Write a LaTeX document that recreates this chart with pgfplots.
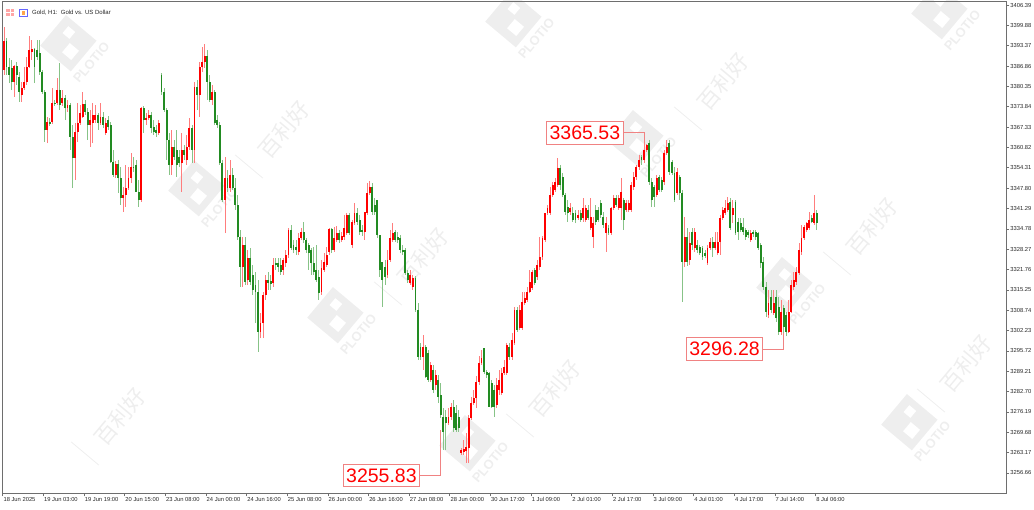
\documentclass[border=0pt]{standalone}
\usepackage{pgfplots}
\pgfplotsset{compat=1.18}
\usepackage{pgfplotstable}
\usepackage{fontspec}
\setmainfont{Liberation Sans}
\newfontfamily\cjk{Noto Sans CJK SC}

\definecolor{upc}{RGB}{255,0,0}
\definecolor{upw}{RGB}{255,125,125}
\definecolor{dnc}{RGB}{34,139,34}
\definecolor{dnw}{RGB}{135,195,135}
\definecolor{tagline}{RGB}{240,130,130}
\definecolor{frame}{RGB}{110,110,110}
\definecolor{wmc}{RGB}{238,238,238}

% Gold H1 candles: bar index, open, high, low, close
\pgfplotstableread{
i o h l c
0 3385.6 3399.4 3384.0 3394.9
1 3394.9 3395.8 3384.0 3386.6
2 3386.6 3389.4 3381.4 3384.0
3 3386.2 3388.8 3379.2 3381.8
4 3381.8 3387.2 3377.0 3386.9
5 3386.9 3388.2 3380.8 3384.0
6 3383.4 3385.0 3375.4 3378.6
7 3377.6 3381.8 3375.4 3379.8
8 3379.8 3386.6 3379.2 3381.8
9 3381.8 3389.8 3380.8 3386.6
10 3386.6 3396.5 3386.2 3392.0
11 3391.4 3395.2 3388.8 3392.3
12 3392.3 3392.6 3381.4 3386.6
13 3392.0 3395.2 3388.8 3389.8
14 3391.0 3395.2 3384.0 3385.0
15 3385.0 3385.6 3377.9 3378.6
16 3378.6 3379.2 3362.6 3366.4
17 3366.4 3370.6 3362.2 3369.0
18 3369.0 3370.2 3367.7 3368.3
19 3369.0 3379.8 3368.3 3375.0
20 3375.0 3376.0 3374.1 3374.7
21 3375.0 3383.0 3374.4 3379.2
22 3379.2 3387.8 3372.8 3374.4
23 3375.0 3379.2 3374.1 3376.6
24 3376.6 3377.6 3369.6 3373.4
25 3373.4 3376.0 3372.2 3374.4
26 3374.4 3375.0 3360.0 3364.2
27 3364.2 3368.0 3347.8 3357.4
28 3357.4 3368.6 3350.4 3365.8
29 3365.8 3375.0 3362.6 3368.6
30 3368.6 3374.4 3368.0 3371.8
31 3370.6 3378.6 3370.2 3374.7
32 3374.7 3376.0 3371.2 3372.2
33 3372.2 3373.4 3363.2 3368.0
34 3368.0 3372.8 3361.0 3369.6
35 3368.6 3375.0 3362.2 3371.2
36 3369.6 3374.4 3368.6 3371.2
37 3371.2 3371.8 3366.4 3368.6
38 3368.6 3375.0 3368.0 3370.6
39 3370.6 3372.2 3367.0 3368.0
40 3365.4 3370.2 3364.8 3368.6
41 3369.6 3370.9 3366.4 3367.4
42 3368.0 3369.0 3355.8 3356.2
43 3356.2 3360.0 3351.4 3352.0
44 3352.0 3356.5 3351.0 3355.5
45 3355.5 3356.8 3346.2 3351.0
46 3351.0 3354.6 3342.4 3344.6
47 3344.6 3348.2 3340.2 3345.6
48 3345.6 3355.2 3341.8 3347.8
49 3347.8 3354.6 3347.2 3351.0
50 3351.0 3359.0 3349.4 3354.6
51 3354.6 3357.8 3353.0 3354.2
52 3355.2 3356.8 3346.6 3346.6
53 3346.6 3350.4 3341.8 3344.0
54 3344.0 3373.8 3343.4 3373.4
55 3373.4 3374.1 3365.4 3369.6
56 3369.6 3371.8 3368.0 3370.2
57 3370.2 3372.8 3369.6 3371.2
58 3371.2 3372.2 3365.4 3367.0
59 3367.4 3369.6 3364.8 3365.8
60 3366.4 3368.0 3364.2 3365.4
61 3365.4 3369.6 3364.8 3368.6
62 3384.0 3384.6 3377.6 3378.6
63 3378.6 3379.8 3372.2 3372.8
64 3372.8 3373.4 3356.8 3363.2
65 3363.2 3365.4 3352.0 3355.2
66 3355.2 3366.4 3352.0 3361.0
67 3361.0 3363.2 3356.8 3357.8
68 3360.0 3366.4 3351.4 3355.2
69 3357.8 3360.0 3354.6 3355.8
70 3355.8 3365.4 3346.6 3360.0
71 3360.0 3361.6 3356.8 3358.4
72 3356.8 3364.8 3355.2 3361.0
73 3361.0 3370.2 3360.0 3367.0
74 3367.0 3368.0 3355.8 3360.0
75 3360.0 3381.8 3355.8 3380.2
76 3380.2 3382.4 3372.8 3377.6
77 3377.6 3388.2 3370.6 3386.6
78 3386.6 3393.0 3385.0 3388.2
79 3388.2 3393.9 3386.2 3390.1
80 3390.1 3392.0 3376.0 3381.8
81 3381.8 3384.0 3375.4 3376.0
82 3376.0 3380.8 3374.4 3378.6
83 3378.6 3379.2 3368.0 3368.6
84 3369.6 3371.2 3367.0 3368.0
85 3368.0 3369.0 3355.2 3355.8
86 3355.8 3356.8 3343.4 3344.0
87 3344.0 3357.8 3333.4 3351.0
88 3351.0 3353.6 3346.6 3347.8
89 3347.8 3356.8 3346.6 3352.0
90 3352.0 3354.2 3347.2 3347.8
91 3347.8 3351.0 3340.8 3342.4
92 3342.4 3345.6 3331.2 3332.2
93 3332.2 3334.4 3316.2 3322.6
94 3322.6 3332.2 3316.2 3329.6
95 3329.6 3332.2 3316.8 3317.8
96 3318.4 3328.0 3316.8 3325.4
97 3325.4 3328.6 3316.8 3317.8
98 3320.0 3323.2 3313.6 3315.2
99 3316.8 3321.0 3304.6 3314.6
100 3314.6 3318.4 3295.4 3301.8
101 3301.8 3307.8 3299.8 3304.6
102 3304.6 3314.6 3299.8 3313.6
103 3313.6 3320.0 3312.0 3318.4
104 3318.4 3321.0 3315.2 3317.4
105 3318.1 3320.0 3315.2 3317.1
106 3317.4 3325.4 3316.2 3323.2
107 3323.8 3325.4 3321.6 3323.2
108 3323.8 3325.4 3321.0 3322.6
109 3323.2 3325.4 3320.0 3321.0
110 3321.6 3325.4 3320.0 3324.8
111 3323.8 3328.0 3322.6 3326.4
112 3326.4 3335.0 3325.4 3334.4
113 3334.4 3336.0 3328.0 3328.6
114 3329.6 3331.2 3327.0 3328.0
115 3329.0 3331.2 3326.4 3328.0
116 3327.4 3333.4 3326.4 3331.8
117 3331.8 3335.0 3331.2 3333.8
118 3333.8 3337.0 3330.2 3331.2
119 3331.2 3331.8 3327.0 3328.0
120 3329.6 3330.2 3321.6 3327.0
121 3328.0 3328.6 3320.0 3323.8
122 3323.8 3329.0 3320.0 3321.0
123 3321.6 3329.6 3317.8 3318.4
124 3319.4 3321.6 3312.0 3314.2
125 3314.6 3324.8 3313.6 3322.2
126 3321.6 3327.0 3321.0 3324.2
127 3323.2 3329.0 3322.6 3326.4
128 3327.4 3335.0 3326.4 3334.7
129 3334.7 3335.0 3327.0 3328.0
130 3328.0 3335.4 3327.4 3331.8
131 3331.2 3335.7 3330.6 3333.4
132 3333.4 3334.4 3330.2 3331.2
133 3331.2 3333.8 3330.6 3332.5
134 3332.2 3339.2 3331.2 3335.0
135 3333.4 3339.8 3332.8 3339.2
136 3339.2 3339.8 3332.8 3333.4
137 3329.6 3337.6 3328.6 3337.0
138 3336.6 3343.0 3336.0 3339.8
139 3339.8 3341.4 3336.0 3337.0
140 3337.6 3339.2 3332.8 3333.8
141 3334.4 3336.0 3332.5 3333.8
142 3333.8 3340.2 3331.2 3340.2
143 3339.8 3349.4 3339.2 3346.2
144 3346.2 3350.1 3345.6 3348.2
145 3348.2 3349.4 3339.2 3340.2
146 3342.4 3344.6 3339.2 3340.2
147 3344.0 3344.0 3331.8 3332.8
148 3332.8 3332.8 3319.4 3321.6
149 3324.2 3324.2 3309.8 3318.4
150 3322.6 3324.8 3316.8 3319.4
151 3320.0 3328.0 3319.0 3324.8
152 3324.8 3334.4 3324.2 3331.8
153 3331.2 3336.6 3330.6 3333.4
154 3333.8 3334.4 3330.6 3331.2
155 3332.2 3333.8 3330.2 3331.2
156 3331.8 3332.8 3327.0 3328.0
157 3328.0 3329.6 3326.4 3327.4
158 3328.0 3328.6 3320.0 3320.6
159 3320.6 3321.6 3317.4 3318.4
160 3317.4 3321.6 3316.8 3320.0
161 3316.2 3320.0 3315.2 3319.0
162 3319.0 3319.7 3308.2 3308.8
163 3308.8 3311.0 3292.8 3293.8
164 3297.0 3298.2 3292.8 3293.8
165 3293.8 3300.8 3289.6 3297.0
166 3297.0 3297.6 3287.0 3287.4
167 3295.0 3296.0 3285.8 3286.4
168 3286.4 3292.2 3285.8 3291.2
169 3289.6 3291.2 3282.2 3283.2
170 3284.8 3289.6 3283.2 3288.0
171 3286.4 3288.0 3279.0 3281.0
172 3281.6 3285.4 3274.2 3275.2
173 3274.6 3277.4 3264.0 3269.8
174 3274.6 3276.8 3264.0 3272.6
175 3272.6 3277.4 3272.0 3274.6
176 3274.6 3279.0 3273.6 3277.8
177 3277.8 3280.0 3269.8 3271.0
178 3275.8 3278.4 3269.8 3270.4
179 3274.6 3276.8 3269.8 3271.0
180 3263.0 3264.6 3262.4 3264.0
181 3263.4 3267.2 3262.4 3264.3
182 3263.7 3269.4 3259.8 3265.0
183 3264.6 3275.2 3259.8 3274.2
184 3274.2 3281.0 3273.6 3279.0
185 3279.0 3283.2 3278.4 3280.6
186 3280.6 3287.7 3277.4 3285.8
187 3285.8 3294.1 3284.8 3291.8
188 3291.8 3296.0 3291.2 3293.4
189 3296.6 3296.6 3288.3 3289.0
190 3289.0 3289.6 3287.0 3288.0
191 3288.6 3289.0 3277.8 3277.8
192 3285.4 3286.4 3277.4 3277.8
193 3283.2 3284.8 3274.6 3277.8
194 3278.4 3287.0 3277.4 3284.8
195 3283.2 3289.6 3281.6 3286.4
196 3282.2 3290.2 3281.6 3288.6
197 3288.6 3292.8 3288.0 3290.6
198 3288.6 3298.2 3288.0 3297.6
199 3297.0 3298.2 3292.8 3293.8
200 3293.8 3301.4 3292.8 3299.2
201 3298.2 3309.8 3297.6 3308.8
202 3308.8 3309.8 3301.8 3302.4
203 3303.0 3310.4 3302.4 3308.8
204 3303.0 3314.6 3302.4 3311.4
205 3311.0 3314.6 3310.4 3312.6
206 3312.0 3316.2 3311.4 3314.6
207 3314.6 3321.6 3314.2 3317.8
208 3315.8 3321.6 3315.2 3321.0
209 3321.6 3322.2 3316.8 3317.4
210 3319.4 3324.8 3318.4 3323.2
211 3322.6 3332.2 3321.6 3325.8
212 3325.8 3332.5 3324.8 3331.8
213 3331.2 3339.8 3330.6 3339.8
214 3339.8 3342.4 3339.2 3341.4
215 3339.8 3348.2 3339.2 3345.6
216 3345.6 3349.8 3345.0 3348.8
217 3347.2 3351.0 3346.6 3349.8
218 3348.8 3357.4 3348.2 3354.2
219 3354.2 3355.2 3347.2 3348.8
220 3351.4 3352.6 3345.0 3345.6
221 3345.6 3346.2 3339.2 3340.2
222 3341.8 3344.0 3337.0 3339.8
223 3340.2 3343.0 3339.2 3341.4
224 3339.8 3341.8 3337.0 3337.6
225 3339.8 3340.8 3336.6 3337.6
226 3338.2 3340.8 3337.6 3339.2
227 3339.8 3340.8 3337.0 3337.6
228 3338.2 3344.6 3337.0 3341.4
229 3337.6 3342.4 3337.0 3341.4
230 3340.8 3342.4 3337.6 3338.2
231 3335.0 3344.6 3334.4 3338.6
232 3332.2 3338.6 3328.6 3336.6
233 3340.8 3342.4 3336.0 3337.0
234 3340.8 3341.8 3337.0 3337.6
235 3343.0 3344.0 3338.2 3339.2
236 3338.6 3340.2 3335.0 3336.0
237 3333.4 3338.6 3327.4 3336.6
238 3335.0 3336.0 3332.8 3333.4
239 3333.4 3341.8 3332.8 3341.4
240 3341.4 3345.6 3340.8 3344.6
241 3344.6 3345.6 3341.8 3342.4
242 3341.4 3345.6 3340.8 3344.6
243 3341.4 3351.0 3337.6 3346.6
244 3344.0 3344.6 3334.4 3337.6
245 3340.8 3344.0 3340.2 3343.0
246 3340.8 3344.0 3340.2 3343.0
247 3340.8 3349.8 3340.2 3348.8
248 3348.2 3353.0 3347.2 3351.4
249 3351.4 3355.2 3350.4 3354.6
250 3354.6 3358.4 3353.6 3356.8
251 3357.8 3358.4 3355.2 3356.8
252 3356.8 3362.2 3355.8 3360.0
253 3360.0 3361.8 3359.4 3361.6
254 3362.2 3363.2 3348.8 3349.8
255 3349.8 3351.0 3341.8 3344.0
256 3348.2 3348.8 3341.8 3345.0
257 3345.6 3352.0 3345.0 3351.0
258 3351.4 3352.0 3346.6 3347.2
259 3350.4 3351.4 3346.6 3347.2
260 3349.8 3360.0 3348.8 3359.0
261 3359.0 3363.2 3358.4 3361.0
262 3362.2 3363.2 3352.0 3353.0
263 3356.2 3356.8 3352.0 3352.6
264 3352.6 3354.6 3343.4 3344.0
265 3346.2 3354.2 3345.6 3353.0
266 3351.4 3352.0 3344.0 3346.2
267 3346.2 3347.2 3311.4 3324.2
268 3324.2 3338.6 3322.6 3332.2
269 3332.2 3335.0 3322.9 3324.2
270 3324.8 3333.8 3323.2 3330.2
271 3333.8 3335.0 3328.0 3329.6
272 3328.6 3335.0 3327.4 3333.8
273 3329.6 3331.2 3327.0 3328.0
274 3329.0 3329.6 3326.4 3327.0
275 3328.6 3329.3 3324.8 3325.8
276 3327.0 3328.0 3325.4 3326.1
277 3323.8 3329.6 3323.2 3328.6
278 3328.6 3331.8 3328.0 3330.6
279 3330.6 3332.2 3325.8 3328.6
280 3328.6 3333.8 3328.0 3330.6
281 3327.0 3333.8 3326.4 3330.6
282 3330.6 3339.2 3326.4 3338.2
283 3338.2 3341.8 3337.6 3340.8
284 3339.8 3344.0 3339.2 3341.4
285 3340.8 3345.0 3340.2 3343.0
286 3343.4 3344.6 3334.4 3335.0
287 3339.2 3344.0 3336.6 3341.4
288 3343.4 3344.0 3332.8 3333.4
289 3337.0 3338.2 3331.2 3333.8
290 3336.6 3338.2 3333.8 3334.4
291 3335.4 3338.2 3332.8 3333.8
292 3334.4 3335.0 3331.2 3332.2
293 3333.8 3334.4 3331.8 3332.8
294 3331.2 3334.4 3330.6 3333.4
295 3333.8 3334.4 3332.2 3333.1
296 3333.8 3334.4 3331.2 3332.2
297 3333.4 3333.8 3328.0 3328.6
298 3329.6 3330.2 3322.2 3323.8
299 3324.2 3325.8 3315.2 3316.2
300 3316.2 3317.8 3306.6 3308.2
301 3307.2 3315.2 3306.2 3311.0
302 3313.0 3315.2 3307.8 3308.8
303 3307.8 3315.2 3307.2 3311.0
304 3313.0 3315.2 3305.0 3306.2
305 3309.8 3313.0 3300.8 3301.8
306 3301.8 3312.0 3300.8 3308.2
307 3309.4 3310.4 3301.4 3303.4
308 3307.2 3308.2 3300.4 3301.8
309 3301.8 3312.0 3301.4 3308.2
310 3308.2 3318.4 3307.8 3316.8
311 3316.2 3321.0 3315.2 3318.4
312 3317.8 3322.6 3316.8 3321.0
313 3320.6 3330.2 3320.0 3328.0
314 3327.4 3336.0 3326.4 3331.8
315 3331.8 3336.0 3331.2 3335.4
316 3334.4 3337.0 3333.8 3336.6
317 3335.0 3340.2 3334.4 3337.6
318 3338.2 3339.2 3336.6 3337.0
319 3336.6 3345.6 3336.0 3339.8
320 3339.8 3340.8 3334.4 3336.6
}\gold

\tikzset{tag/.style={draw=tagline, line width=0.9pt, fill=white, text=upc,
  font=\fontsize{19.5}{20}\selectfont, inner xsep=3pt, inner ysep=4.5pt}}

% faint watermark pieces; #1,#2 = centre in picture pixels from the top-left
\newcommand{\wmlogo}[2]{%
  \begin{scope}[shift={({#1-2},{493-#2})}, rotate=50]
    \fill[wmc] (-20,3) rectangle (20,43);
    \fill[white] (-11,10) rectangle (1,22);
    \fill[white] (4,25) rectangle (13,34);
    \node[text=wmc, transform shape, font=\bfseries\fontsize{13}{13}\selectfont,
      inner sep=0pt] at (0,-7) {PLOTIO};
  \end{scope}}
\newcommand{\wmtext}[2]{%
  \draw[wmc, line width=0.8pt] ({#1-2-35},{493-#2-36.5}) ++(140:18) -- ++(-40:36);
  \node[text=wmc, rotate=50, font=\cjk\fontsize{22}{22}\selectfont, inner sep=0pt]
    at ({#1-2},{493-#2}) {百利好};}

\begin{document}
\begin{tikzpicture}[x=1pt, y=1pt]
\useasboundingbox (-2,-17) rectangle (1032,493);
% watermarks underneath the chart
\wmlogo{86}{58}
\wmlogo{531}{34}
\wmlogo{957}{26}
\wmlogo{214}{203}
\wmlogo{653}{153}
\wmlogo{353}{330}
\wmlogo{802}{300}
\wmlogo{485}{458}
\wmlogo{927}{437}
\wmtext{284}{130}
\wmtext{723}{82}
\wmtext{423}{257}
\wmtext{872}{227}
\wmtext{555}{389}
\wmtext{966}{364}
\wmtext{120}{417}
\begin{axis}[
  at={(0,0)}, anchor=south west,
  width=1004pt, height=492pt, scale only axis,
  xmin=-0.79, xmax=394.5,
  ymin=3250.24, ymax=3407.68,
  axis line style={draw=frame, line width=0.8pt},
  tick align=outside,
  major tick length=3.5pt,
  tick style={draw=frame, line width=0.6pt},
  xtick pos=bottom, ytick pos=right,
  yticklabel pos=right,
  xtick={-0.5,15.5,31.5,47.5,63.5,79.5,95.5,111.5,127.5,143.5,159.5,175.5,191.5,207.5,223.5,239.5,255.5,271.5,287.5,303.5,319.5},
  xticklabels={18 Jun 2025,19 Jun 03:00,19 Jun 19:00,20 Jun 15:00,23 Jun 08:00,24 Jun 00:00,24 Jun 16:00,25 Jun 08:00,26 Jun 00:00,26 Jun 16:00,27 Jun 08:00,28 Jun 00:00,30 Jun 17:00,1 Jul 09:00,2 Jul 01:00,2 Jul 17:00,3 Jul 09:00,4 Jul 01:00,4 Jul 17:00,7 Jul 14:00,8 Jul 06:00},
  ytick={3256.66,3263.17,3269.68,3276.19,3282.70,3289.21,3295.72,3302.23,3308.74,3315.25,3321.76,3328.27,3334.78,3341.29,3347.80,3354.31,3360.82,3367.33,3373.84,3380.35,3386.86,3393.37,3399.88,3406.39},
  yticklabels={3256.66,3263.17,3269.68,3276.19,3282.70,3289.21,3295.72,3302.23,3308.74,3315.25,3321.76,3328.27,3334.78,3341.29,3347.80,3354.31,3360.82,3367.33,3373.84,3380.35,3386.86,3393.37,3399.88,3406.39},
  ticklabel style={font=\fontsize{5.8}{6}\selectfont, text=black!85},
  xticklabel style={anchor=north west, inner sep=0pt, xshift=0.6pt, yshift=-1pt},
  yticklabel style={anchor=west, inner sep=0pt, xshift=0.8pt},
  candle/.style={mark=none, draw=none, forget plot,
    error bars/y dir=plus, error bars/y explicit, error bars/error mark=none},
]
% wicks
\addplot[candle, error bars/error bar style={line width=0.9pt, draw=upw}]
  table[x=i, y expr={\thisrow{c}>=\thisrow{o} ? \thisrow{l} : nan},
        y error plus expr={\thisrow{h}-\thisrow{l}}] {\gold};
\addplot[candle, error bars/error bar style={line width=0.9pt, draw=dnw}]
  table[x=i, y expr={\thisrow{c}<\thisrow{o} ? \thisrow{l} : nan},
        y error plus expr={\thisrow{h}-\thisrow{l}}] {\gold};
% bodies
\addplot[candle, error bars/error bar style={line width=1.9pt, draw=upc}]
  table[x=i, y expr={\thisrow{c}>=\thisrow{o} ? \thisrow{o} : nan},
        y error plus expr={\thisrow{c}-\thisrow{o}}] {\gold};
\addplot[candle, error bars/error bar style={line width=1.9pt, draw=dnc}]
  table[x=i, y expr={\thisrow{c}<\thisrow{o} ? \thisrow{c} : nan},
        y error plus expr={\thisrow{o}-\thisrow{c}}] {\gold};

% price tags with leader lines
\draw[tagline, line width=0.9pt] (axis cs:228.7,3365.53) -| (axis cs:252.0,3362.2);
\node[tag] at (axis cs:228.7,3365.53) {3365.53};
\draw[tagline, line width=0.9pt] (axis cs:148.6,3255.83) -| (axis cs:172.0,3270.4);
\node[tag] at (axis cs:148.6,3255.83) {3255.83};
\draw[tagline, line width=0.9pt] (axis cs:283.7,3296.28) -| (axis cs:306.8,3301.4);
\node[tag] at (axis cs:283.7,3296.28) {3296.28};
\end{axis}

% chart title with the two small window icons
\fill[red!35] (4,477) rectangle (12,484);
\draw[white, line width=0.5pt] (8,477) -- (8,484) (4,480.5) -- (12,480.5);
\draw[blue!60, line width=0.6pt] (17.5,477) rectangle (25.5,484);
\fill[orange!70] (20,478) rectangle (23,482);
\node[anchor=west, inner sep=0pt, font=\fontsize{6}{7}\selectfont, text=black!85]
  at (30,480.5) {Gold, H1:\ \ Gold vs. US Dollar};
\end{tikzpicture}
\end{document}
